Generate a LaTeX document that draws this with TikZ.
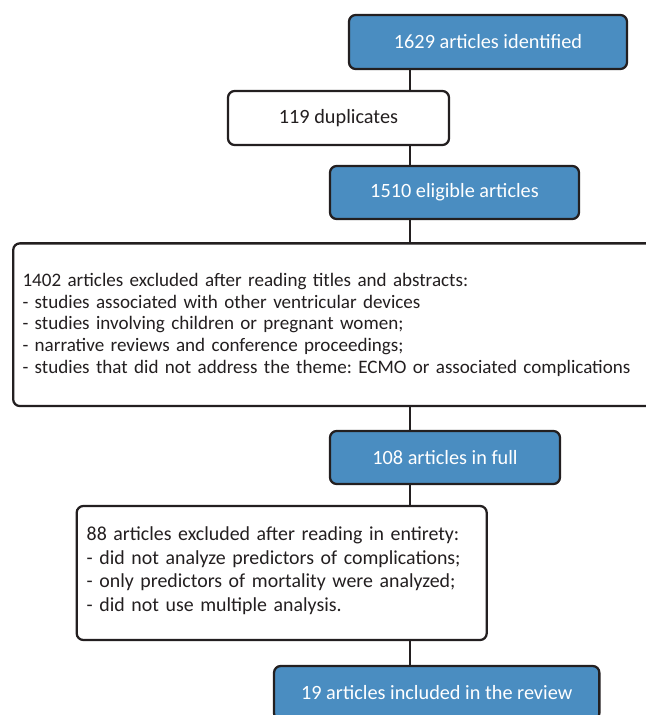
\documentclass[tikz,border=0pt]{standalone}
\usepackage{fontspec}
\setmainfont{Carlito}
\frenchspacing
\definecolor{boxblue}{RGB}{74,141,193}
\definecolor{ink}{RGB}{35,31,32}
\begin{document}
\begin{tikzpicture}[x=0.75pt,y=-0.75pt,
  basebox/.style={draw=ink,line width=1.7pt,rounded corners=5pt,inner sep=0pt,align=center},
  bluebox/.style={basebox,fill=boxblue,text=white,font=\fontsize{15.2pt}{17.9pt}\selectfont},
  whitebox/.style={basebox,fill=white,text=ink,font=\fontsize{15.2pt}{17.9pt}\selectfont},
  conn/.style={draw=ink,line width=1.5pt}]
\useasboundingbox (0,0) rectangle (646,715);
\coordinate (spine) at (410.3,0);
\node[bluebox,minimum width=208.5pt,minimum height=40.5pt] (b1) at (488,42) {1629 articles identified};
\node[whitebox,minimum width=165.75pt,minimum height=40.5pt] (b2) at (338.5,118) {119 duplicates};
\node[bluebox,minimum width=186.75pt,minimum height=39.75pt] (b3) at (454.5,192.5) {1510 eligible articles};
\node[whitebox,align=left,text width=474.7pt,inner xsep=7pt,minimum height=122pt,
      font=\fontsize{14.3pt}{16.3pt}\selectfont] (b4) at (339,324.7)
  {1402 articles excluded after reading titles and abstracts:\\
   - studies associated with other ventricular devices\\
   - studies involving children or pregnant women;\\
   - narrative reviews and conference proceedings;\\
   - studies that did not address the theme: ECMO or associated complications};
\node[bluebox,minimum width=172.5pt,minimum height=39.75pt] (b5) at (445,457.5) {108 articles in full};
\node[whitebox,align=left,text width=292.5pt,inner xsep=7.5pt,minimum height=100.5pt,
      font=\fontsize{14.9pt}{17.9pt}\selectfont] (b6) at (281.7,573)
  {\\[-11pt]88 articles excluded after reading in entirety:\\
   - did not analyze predictors of complications;\\
   - only predictors of mortality were analyzed;\\
   - did not use multiple analysis.};
\node[bluebox,minimum width=244pt,minimum height=40.5pt] (b7) at (436.7,693) {19 articles included in the review};
\draw[conn] (b1.south -| spine) -- (b2.north -| spine);
\draw[conn] (b2.south -| spine) -- (b3.north -| spine);
\draw[conn] (b3.south -| spine) -- (b4.north -| spine);
\draw[conn] (b4.south -| spine) -- (b5.north -| spine);
\draw[conn] (b5.south -| spine) -- (b6.north -| spine);
\draw[conn] (b6.south -| spine) -- (b7.north -| spine);
\end{tikzpicture}
\end{document}
